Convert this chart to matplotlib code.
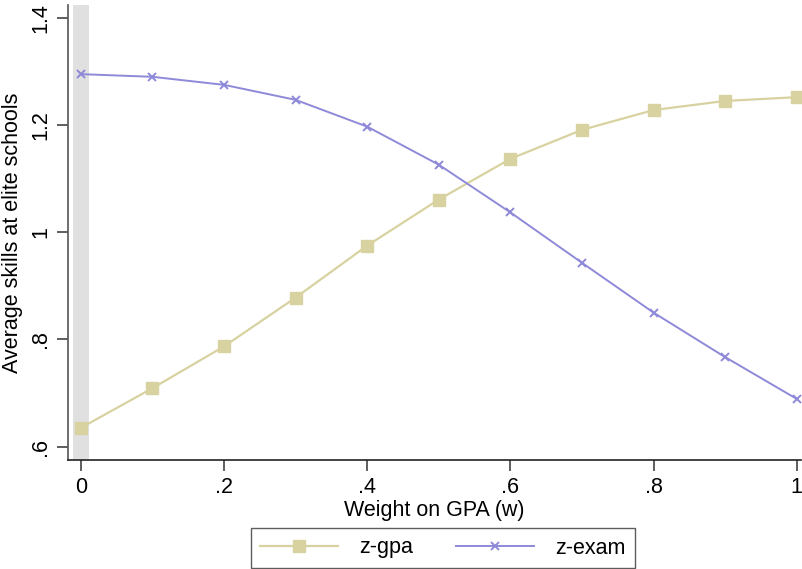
import matplotlib
matplotlib.use("Agg")
import matplotlib.pyplot as plt
from matplotlib.ticker import FixedLocator

plt.rcParams['font.family'] = ['Liberation Sans', 'DejaVu Sans']

w = [0.0, 0.1, 0.2, 0.3, 0.4, 0.5, 0.6, 0.7, 0.8, 0.9, 1.0]
z_gpa = [0.635, 0.709, 0.787, 0.878, 0.975, 1.061, 1.137, 1.191, 1.228, 1.245, 1.252]
z_exam = [1.295, 1.290, 1.275, 1.247, 1.197, 1.126, 1.037, 0.943, 0.850, 0.767, 0.689]

xticks = [0, 0.2, 0.4, 0.6, 0.8, 1.0]
xticklabels = ["0", ".2", ".4", ".6", ".8", "1"]
yticks = [0.6, 0.8, 1.0, 1.2, 1.4]
yticklabels = [".6", ".8", "1", "1.2", "1.4"]

gpa_color = "#d8d2a0"
exam_color = "#8e89d8"

fig = plt.figure(figsize=(8.02, 5.69), dpi=100)
ax = fig.add_axes([68/802, (569-460)/569, (801-68)/802, (460-5)/569])

ax.axvspan(-0.011, 0.011, color="#e0e0e0", zorder=0, lw=0)

ax.plot(w, z_gpa, color=gpa_color, lw=1.6, marker='s', markersize=9,
        markerfacecolor=gpa_color, markeredgecolor=gpa_color, label="z-gpa", zorder=3)
ax.plot(w, z_exam, color=exam_color, lw=1.4, marker='x', markersize=6, mew=1.4,
        markeredgecolor=exam_color, label="z-exam", zorder=3)

ax.set_xlim(-0.018, 1.006)
ax.set_ylim(0.575, 1.424)
ax.xaxis.set_major_locator(FixedLocator(xticks))
ax.set_xticklabels(xticklabels)
ax.yaxis.set_major_locator(FixedLocator(yticks))
ax.set_yticklabels(yticklabels, rotation=90, va='center')

for s in ['top', 'right']:
    ax.spines[s].set_visible(False)
ax.spines['left'].set_color('#555555')
ax.spines['bottom'].set_color('#222222')
ax.spines['left'].set_linewidth(1.2)
ax.spines['bottom'].set_linewidth(1.2)
ax.tick_params(axis='both', direction='out', length=8, width=1.1, color='#333333',
               labelsize=15.5, pad=4)

ax.set_xlabel("Weight on GPA (w)", fontsize=15.5, labelpad=2)
ax.set_ylabel("Average skills at elite schools", fontsize=15.5, labelpad=5)

leg = fig.legend(loc='center', bbox_to_anchor=(443/802, 1-548/569), ncol=2,
                 fontsize=15.5, frameon=True, fancybox=False, handlelength=3.6,
                 columnspacing=2.0, borderpad=0.45, handletextpad=1.0)
leg.get_frame().set_edgecolor('#333333')
leg.get_frame().set_linewidth(1.0)

fig.savefig("out.png", dpi=100)
